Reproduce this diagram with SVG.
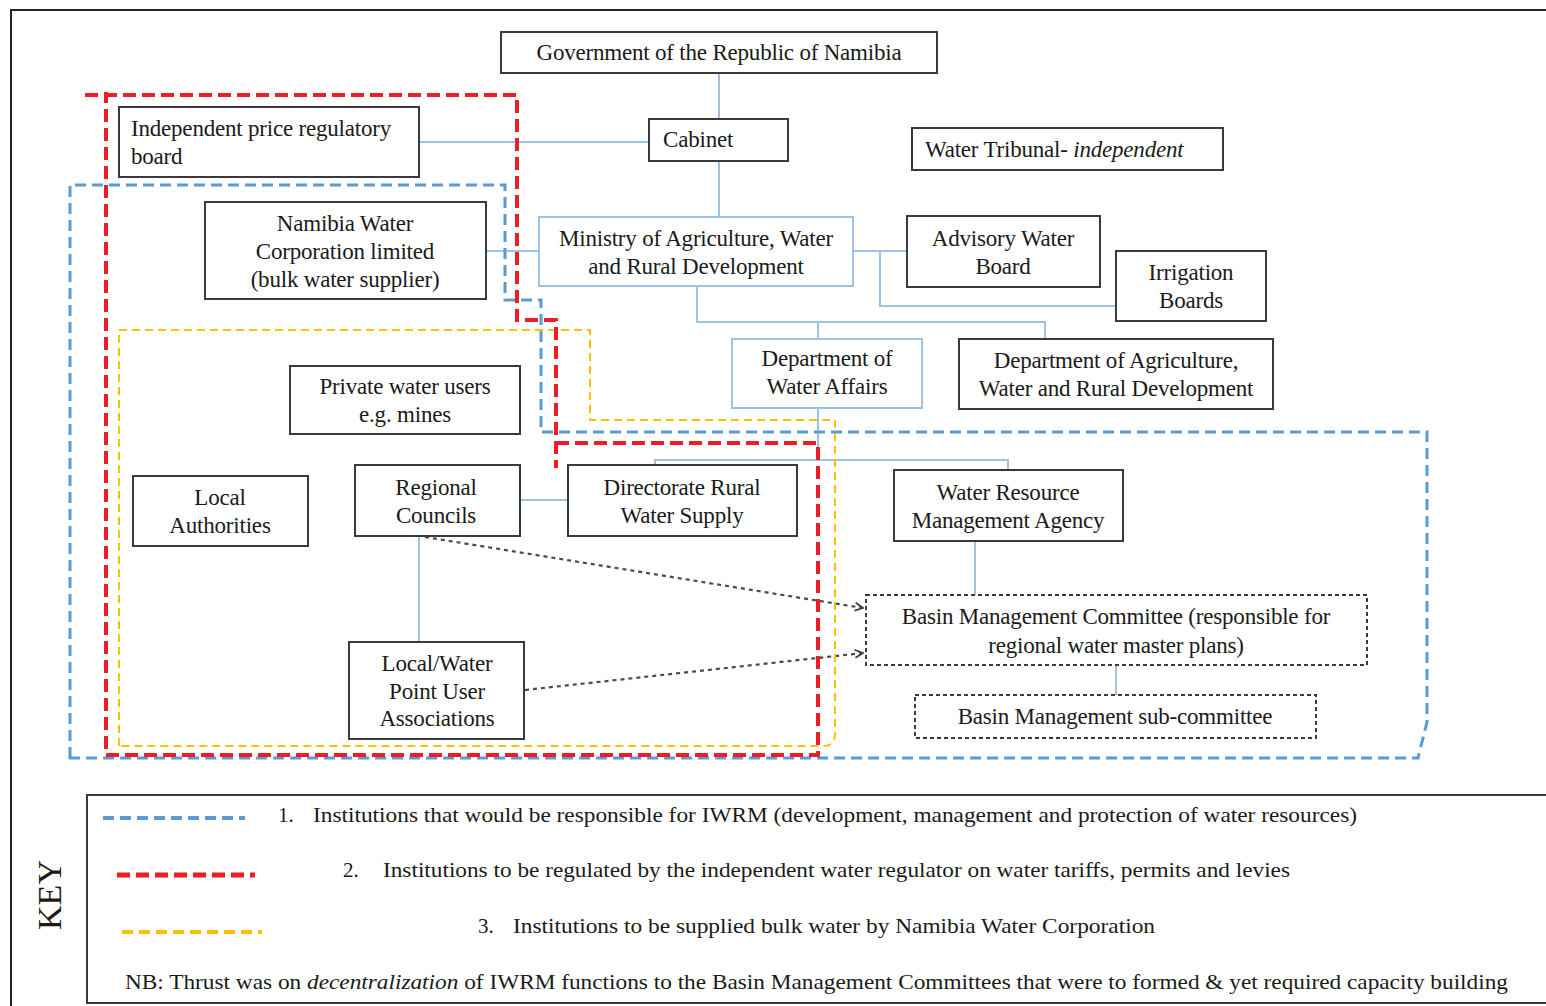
<svg xmlns="http://www.w3.org/2000/svg" width="1546" height="1006" viewBox="0 0 1546 1006">
  <defs>
    <style>
      text { font-family: "Liberation Serif", "Times New Roman", serif; font-size: 23px; fill: #1a1a1a; letter-spacing: -0.2px; }
      .c { text-anchor: middle; }
      .box { fill: #ffffff; stroke: #3a3a3a; stroke-width: 2; }
      .boxb { fill: #ffffff; stroke: #9cc2e5; stroke-width: 2; }
      .boxd { fill: #ffffff; stroke: #3a3a3a; stroke-width: 2; stroke-dasharray: 4 3; }
      .link { fill: none; stroke: #9cc2e5; stroke-width: 2; }
      .dot { fill: none; stroke: #4a4a4a; stroke-width: 2.2; stroke-dasharray: 4 4; }
      .blue { fill: none; stroke: #5b9bd5; stroke-width: 3; stroke-dasharray: 11 6; }
      .red { fill: none; stroke: #ee1c25; stroke-width: 4; stroke-dasharray: 13 6; }
      .gold { fill: none; stroke: #ffc000; stroke-width: 2; stroke-dasharray: 8 5; }
      .key { font-size: 21px; letter-spacing: 0; }
      .keytitle { font-size: 34px; letter-spacing: 0; }
    </style>
    <marker id="open" viewBox="0 0 10 10" refX="9" refY="5" markerWidth="10" markerHeight="10" markerUnits="userSpaceOnUse" orient="auto">
      <path d="M1,1 L9,5 L1,9" fill="none" stroke="#404040" stroke-width="1.8"/>
    </marker>
  </defs>

  <!-- page frame -->
  <rect x="11" y="10" width="1545" height="1006" fill="#ffffff" stroke="#222" stroke-width="2"/>

  <!-- connectors -->
  <g id="connectors">
    <path class="link" d="M719,73 V119"/>
    <path class="link" d="M719,161 V217"/>
    <path class="link" d="M419,142 H649"/>
    <path class="link" d="M486,251 H539"/>
    <path class="link" d="M853,251 H907"/>
    <path class="link" d="M880,251 V306 H1116"/>
    <path class="link" d="M697,286 V322 H1045 V339"/>
    <path class="link" d="M818,322 V339"/>
    <path class="link" d="M818,408 V460"/>
    <path class="link" d="M655,465 V460 H1008 V470"/>
    <path class="link" d="M520,500 H568"/>
    <path class="link" d="M419,536 V642"/>
    <path class="link" d="M975,541 V595"/>
    <path class="link" d="M1116,665 V695"/>
    <path class="dot" d="M425,537 L863,608" marker-end="url(#open)"/>
    <path class="dot" d="M525,690 L863,653" marker-end="url(#open)"/>
  </g>

  <!-- grouping outlines -->
  <g id="outlines">
    <path class="gold" d="M119,746 V330 H590 V420 H835 V734 Q835,746 823,746 Z"/>
    <path class="blue" d="M70,758 V185 H505 V300 H541 V432 H1427 V722 L1418,758 Z"/>
    <path class="red" d="M85,95 H517 V320 H556 V468 M556,443 H818 V755 H106 V92"/>
  </g>

  <!-- nodes -->
  <g id="government">
    <rect class="box" x="501" y="32" width="436" height="41"/>
    <text class="c" x="719" y="60">Government of the Republic of Namibia</text>
  </g>
  <g id="cabinet">
    <rect class="box" x="649" y="119" width="139" height="42"/>
    <text x="663" y="147">Cabinet</text>
  </g>
  <g id="price-board">
    <rect class="box" x="119" y="107" width="300" height="70"/>
    <text x="131" y="136">Independent price regulatory</text>
    <text x="131" y="164">board</text>
  </g>
  <g id="water-tribunal">
    <rect class="box" x="912" y="128" width="311" height="42"/>
    <text x="925" y="157">Water Tribunal- <tspan font-style="italic">independent</tspan></text>
  </g>
  <g id="namwater">
    <rect class="box" x="205" y="202" width="281" height="97"/>
    <text class="c" x="345" y="231">Namibia Water</text>
    <text class="c" x="345" y="259">Corporation limited</text>
    <text class="c" x="345" y="287">(bulk water supplier)</text>
  </g>
  <g id="ministry">
    <rect class="boxb" x="539" y="217" width="314" height="69"/>
    <text class="c" x="696" y="246">Ministry of Agriculture, Water</text>
    <text class="c" x="696" y="274">and Rural Development</text>
  </g>
  <g id="advisory-board">
    <rect class="box" x="907" y="216" width="193" height="71"/>
    <text class="c" x="1003" y="246">Advisory Water</text>
    <text class="c" x="1003" y="274">Board</text>
  </g>
  <g id="irrigation-boards">
    <rect class="box" x="1116" y="251" width="150" height="70"/>
    <text class="c" x="1191" y="280">Irrigation</text>
    <text class="c" x="1191" y="308">Boards</text>
  </g>
  <g id="water-affairs">
    <rect class="boxb" x="732" y="339" width="190" height="69"/>
    <text class="c" x="827" y="366">Department of</text>
    <text class="c" x="827" y="394">Water Affairs</text>
  </g>
  <g id="dept-agriculture">
    <rect class="box" x="959" y="339" width="314" height="70"/>
    <text class="c" x="1116" y="368">Department of Agriculture,</text>
    <text class="c" x="1116" y="396">Water and Rural Development</text>
  </g>
  <g id="private-users">
    <rect class="box" x="290" y="366" width="230" height="68"/>
    <text class="c" x="405" y="394">Private water users</text>
    <text class="c" x="405" y="422">e.g. mines</text>
  </g>
  <g id="local-authorities">
    <rect class="box" x="133" y="476" width="175" height="70"/>
    <text class="c" x="220" y="505">Local</text>
    <text class="c" x="220" y="533">Authorities</text>
  </g>
  <g id="regional-councils">
    <rect class="box" x="355" y="465" width="165" height="71"/>
    <text class="c" x="436" y="495">Regional</text>
    <text class="c" x="436" y="523">Councils</text>
  </g>
  <g id="rural-water-supply">
    <rect class="box" x="568" y="465" width="229" height="71"/>
    <text class="c" x="682" y="495">Directorate Rural</text>
    <text class="c" x="682" y="523">Water Supply</text>
  </g>
  <g id="wrma">
    <rect class="box" x="894" y="470" width="229" height="71"/>
    <text class="c" x="1008" y="500">Water Resource</text>
    <text class="c" x="1008" y="528">Management Agency</text>
  </g>
  <g id="basin-committee">
    <rect class="boxd" x="866" y="595" width="501" height="70"/>
    <text class="c" x="1116" y="624">Basin Management Committee (responsible for</text>
    <text class="c" x="1116" y="653">regional water master plans)</text>
  </g>
  <g id="basin-subcommittee">
    <rect class="boxd" x="915" y="695" width="401" height="43"/>
    <text class="c" x="1115" y="724">Basin Management  sub-committee</text>
  </g>
  <g id="user-associations">
    <rect class="box" x="349" y="642" width="175" height="97"/>
    <text class="c" x="437" y="671">Local/Water</text>
    <text class="c" x="437" y="699">Point User</text>
    <text class="c" x="437" y="726">Associations</text>
  </g>

  <!-- legend -->
  <g id="key">
    <rect x="87" y="795" width="1470" height="208" fill="none" stroke="#3a3a3a" stroke-width="2"/>
    <text class="c keytitle" transform="translate(61,895) rotate(-90)">KEY</text>
    <path class="blue" d="M103,818 H245" style="stroke-width:4"/>
    <path class="red" d="M117,875 H255" style="stroke-width:5"/>
    <path class="gold" d="M122,932 H262" style="stroke-width:4; stroke-dasharray:11 6"/>
    <text class="key" x="278" y="822">1.</text>
    <text class="key" x="313" y="822" textLength="1044" lengthAdjust="spacingAndGlyphs">Institutions that would be responsible for IWRM (development, management and protection of water resources)</text>
    <text class="key" x="343" y="877">2.</text>
    <text class="key" x="383" y="877" textLength="907" lengthAdjust="spacingAndGlyphs">Institutions to be regulated by the independent water regulator on water tariffs, permits and levies</text>
    <text class="key" x="478" y="933">3.</text>
    <text class="key" x="513" y="933" textLength="642" lengthAdjust="spacingAndGlyphs">Institutions to be supplied bulk water by Namibia  Water Corporation</text>
    <text class="key" x="125" y="989" textLength="1383" lengthAdjust="spacingAndGlyphs">NB: Thrust was on <tspan font-style="italic">decentralization</tspan> of IWRM functions to the Basin Management Committees that were to formed  &amp; yet required capacity building</text>
  </g>
</svg>
